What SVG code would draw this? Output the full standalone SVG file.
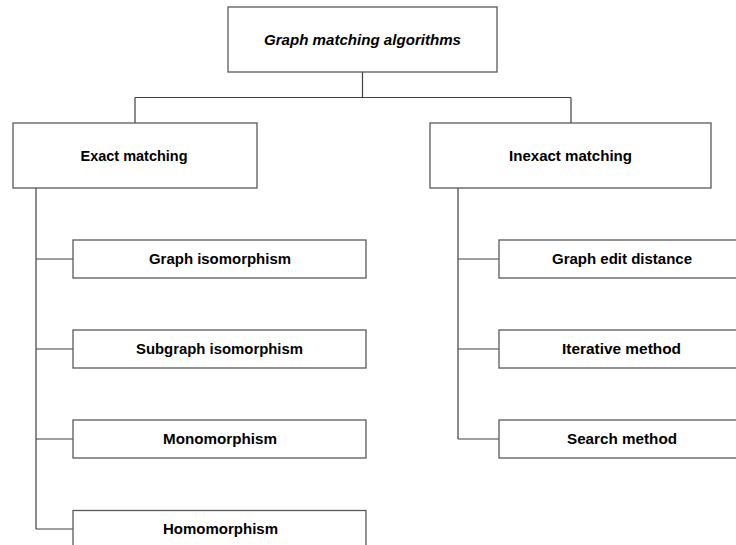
<svg xmlns="http://www.w3.org/2000/svg" width="736" height="545" viewBox="0 0 736 545">
  <style>
    .box { fill: #ffffff; stroke: #5a5a5a; stroke-width: 1.3; }
    .wire { fill: none; stroke: #404040; stroke-width: 1.2; }
    .lbl { font-family: "Liberation Sans", Arial, sans-serif; font-weight: bold; font-size: 15px; fill: #000000; text-anchor: middle; }
    .title { font-style: italic; }
  </style>
  <rect width="736" height="545" fill="#ffffff"/>

  <!-- connectors -->
  <g id="connectors">
    <path class="wire" d="M362.5,72 V97.5 M135,97.5 H571 M135,97.5 V123 M571,97.5 V123"/>
    <path class="wire" d="M36,188 V529 M36,259 H73 M36,349 H73 M36,439 H73 M36,529 H73"/>
    <path class="wire" d="M458,188 V439 M458,259 H499 M458,349 H499 M458,439 H499"/>
  </g>

  <!-- root -->
  <g id="root">
    <rect class="box" x="228" y="7" width="269" height="65"/>
    <text class="lbl title" x="362.5" y="45" textLength="197" lengthAdjust="spacingAndGlyphs">Graph matching algorithms</text>
  </g>

  <!-- first level -->
  <g id="exact">
    <rect class="box" x="13" y="123" width="244" height="65"/>
    <text class="lbl" x="134" y="161" textLength="107" lengthAdjust="spacingAndGlyphs">Exact matching</text>
  </g>
  <g id="inexact">
    <rect class="box" x="430" y="123" width="281" height="65"/>
    <text class="lbl" x="570.5" y="161" textLength="123" lengthAdjust="spacingAndGlyphs">Inexact matching</text>
  </g>

  <!-- exact matching leaves -->
  <g id="graph-isomorphism">
    <rect class="box" x="73" y="240" width="293" height="38"/>
    <text class="lbl" x="220" y="264" textLength="142" lengthAdjust="spacingAndGlyphs">Graph isomorphism</text>
  </g>
  <g id="subgraph-isomorphism">
    <rect class="box" x="73" y="330" width="293" height="38"/>
    <text class="lbl" x="219.5" y="354" textLength="167" lengthAdjust="spacingAndGlyphs">Subgraph isomorphism</text>
  </g>
  <g id="monomorphism">
    <rect class="box" x="73" y="420" width="293" height="38"/>
    <text class="lbl" x="220" y="444" textLength="114" lengthAdjust="spacingAndGlyphs">Monomorphism</text>
  </g>
  <g id="homomorphism">
    <rect class="box" x="73" y="510.5" width="293" height="38"/>
    <text class="lbl" x="220.5" y="534" textLength="115" lengthAdjust="spacingAndGlyphs">Homomorphism</text>
  </g>

  <!-- inexact matching leaves -->
  <g id="graph-edit-distance">
    <rect class="box" x="499" y="240" width="246" height="38"/>
    <text class="lbl" x="622" y="264" textLength="140" lengthAdjust="spacingAndGlyphs">Graph edit distance</text>
  </g>
  <g id="iterative-method">
    <rect class="box" x="499" y="330" width="246" height="38"/>
    <text class="lbl" x="621.5" y="354" textLength="119" lengthAdjust="spacingAndGlyphs">Iterative method</text>
  </g>
  <g id="search-method">
    <rect class="box" x="499" y="420" width="246" height="38"/>
    <text class="lbl" x="622" y="444" textLength="110" lengthAdjust="spacingAndGlyphs">Search method</text>
  </g>
</svg>
